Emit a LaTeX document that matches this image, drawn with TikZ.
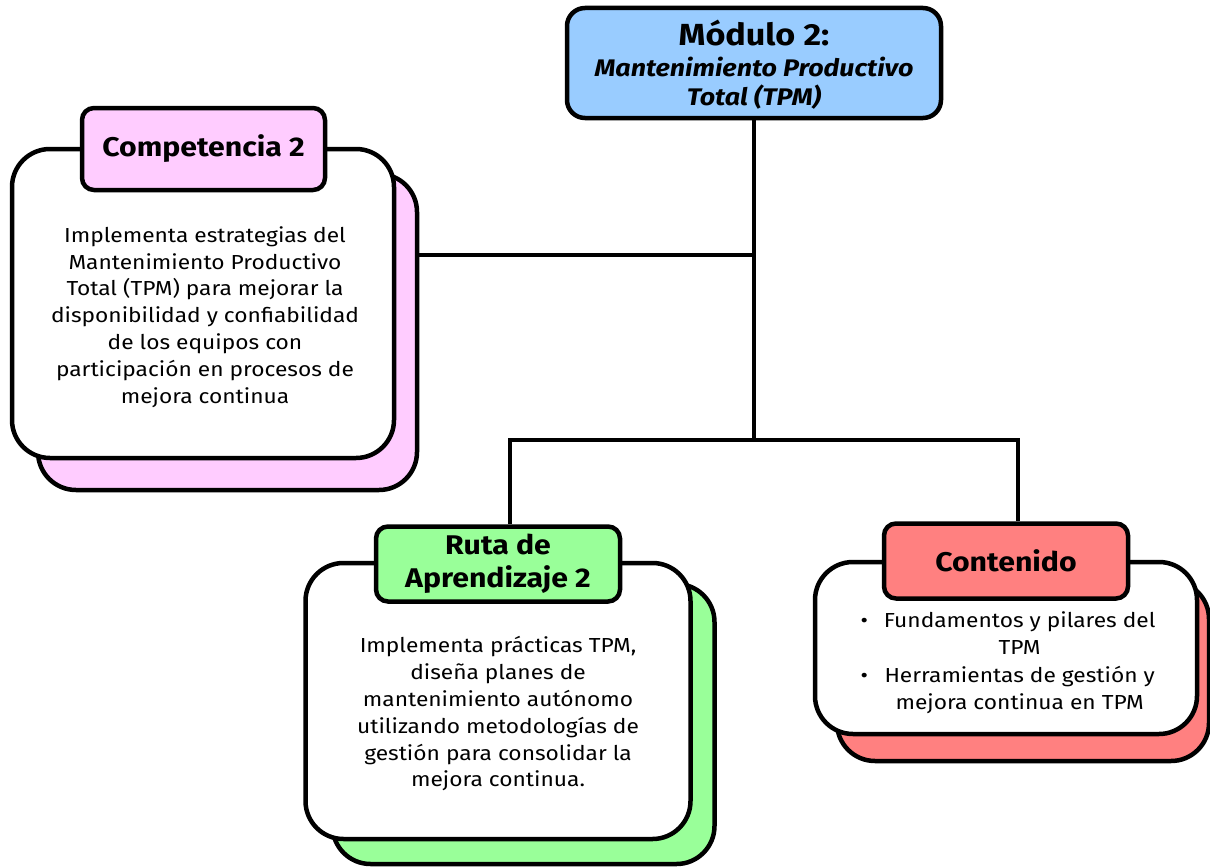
\documentclass[tikz,border=0pt]{standalone}
\usepackage{fontspec}
\setmainfont{Fira Sans}[FakeStretch=1.12]
\usetikzlibrary{backgrounds}
\definecolor{cblue}{RGB}{153,204,255}
\definecolor{cpink}{RGB}{255,204,255}
\definecolor{cgreen}{RGB}{153,255,153}
\definecolor{cred}{RGB}{255,128,128}
\tikzset{
  box/.style={draw=black, line width=4.5pt, rounded corners=38pt, minimum width=#1, inner sep=0pt},
  lbl/.style={draw=black, line width=4.5pt, rounded corners=12pt, inner sep=0pt, align=center, font=\bfseries\fontsize{27}{33}\selectfont},
  body/.style={align=center, font=\fontsize{20.3}{26.8}\selectfont},
  link/.style={draw=black, line width=4pt}
}
\begin{document}
\begin{tikzpicture}[x=1pt,y=-1pt]
\useasboundingbox (0,0) rectangle (1210,867);
% top
\node[lbl, fill=cblue, rounded corners=18pt, minimum width=374pt, minimum height=110pt] (top) at (754,63) {};
\node (toptitle) at (754,33) {\bfseries\fontsize{30.5}{34}\selectfont Módulo 2:};
\node[align=center, font=\bfseries\itshape\fontsize{24}{29}\selectfont] (topsub) at (754,83) {Mantenimiento Productivo\\Total (TPM)};
% competencia
\node[box=379pt, minimum height=316pt, fill=cpink] (cshadow) at (227.5,332) {};
\node[box=382pt, minimum height=309pt, fill=white] (cbody) at (203,303.5) {};
\node[lbl, fill=cpink, minimum width=243pt, minimum height=82pt] (clabel) at (203.5,149) {\raisebox{-2pt}{Competencia 2}};
\node[body] (ctext) at (205,317) {Implementa estrategias del\\Mantenimiento Productivo\\Total (TPM) para mejorar la\\disponibilidad y confiabilidad\\de los equipos con\\participación en procesos de\\mejora continua};
% ruta
\node[box=382pt, minimum height=280pt, fill=cgreen] (rshadow) at (523.5,724) {};
\node[box=385pt, minimum height=276pt, fill=white] (rbody) at (498,701) {};
\node[lbl, fill=cgreen, minimum width=244pt, minimum height=75pt] (rlabel) at (498,564) {Ruta de\\Aprendizaje 2};
\node[body] (rtext) at (498,714) {Implementa prácticas TPM,\\diseña planes de\\mantenimiento autónomo\\utilizando metodologías de\\gestión para consolidar la\\mejora continua.};
% contenido
\node[box=372pt, minimum height=180pt, fill=cred] (kshadow) at (1023,671) {};
\node[box=382pt, minimum height=172pt, fill=white] (kbody) at (1006,648) {};
\node[lbl, fill=cred, minimum width=244pt, minimum height=75pt] (klabel) at (1006,561) {Contenido};
\node[body] (ktext) at (1008,663) {\begin{tabular}{@{}c@{\hspace{16pt}}c@{}}
\textbullet & Fundamentos y pilares del\\[0.5pt]
 & TPM\\[0.5pt]
\textbullet & Herramientas de gestión y\\[0.5pt]
 & mejora continua en TPM
\end{tabular}};
% connectors
\coordinate (j1) at (754,255);
\coordinate (j2) at (754,440);
\coordinate (jr) at (510,440);
\coordinate (jk) at (1018,440);
\begin{scope}[on background layer]
\draw[link] (top.south) -- (j2);
\draw[link] (j1) -- (cshadow.east |- j1);
\draw[link, line cap=rect] (jr) -- (jk);
\draw[link] (jr) -- (jr |- rlabel.north);
\draw[link] (jk) -- (jk |- klabel.north);
\end{scope}
\end{tikzpicture}
\end{document}
